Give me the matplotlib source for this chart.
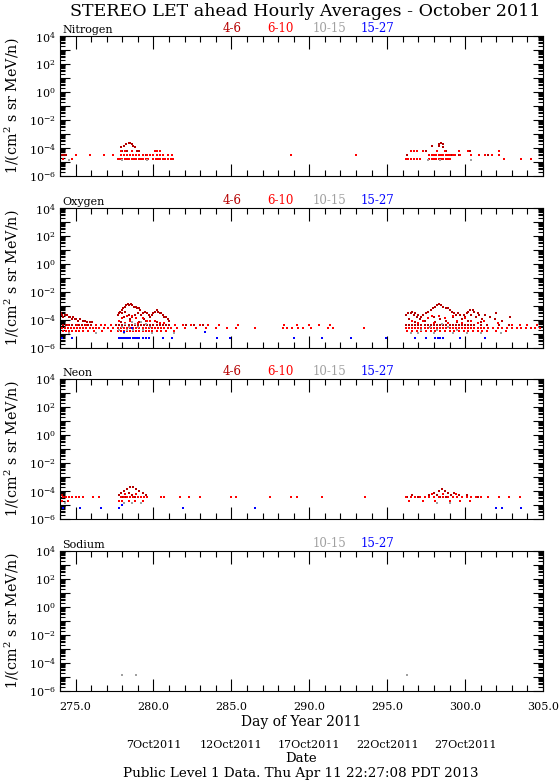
"""
STEREO LET ahead hourly averages, October 2011 -- four element panels
(N, O, Ne, Na), each with the four energy channels as coloured dots.
Output: out.png (559x780)
"""
import math
import matplotlib
matplotlib.use("Agg")
import matplotlib.pyplot as plt
import matplotlib.transforms as mtransforms
from matplotlib.ticker import LogLocator, MultipleLocator, NullFormatter, FuncFormatter

plt.rcParams["font.family"] = "DejaVu Serif"
plt.rcParams["mathtext.fontset"] = "dejavuserif"

# ---- data: each series is a list of (flux level, [days of year]) -----------
# counts are quantised, so points sit on a few discrete flux levels
N_46 = [
    (2.4e-4, [278.4, 278.5, 298.45]),
    (2.0e-4, [278.25, 278.6, 298.35, 298.55]),
    (1.5e-4, [278.1, 278.7, 297.85, 298.3]),
    (1.1e-4, [277.9, 278.8, 298.6]),
    (6.5e-5, [278.0, 278.3, 278.95, 279.1, 297.5, 298.8, 300.3]),
    (3.2e-5, [274.1, 274.25, 274.4, 279.3, 279.55, 296.3, 297.95, 299.1, 299.6, 301.5]),
]
N_610 = [
    (6.5e-5, [277.9, 278.2, 278.6, 280.1, 280.25, 280.4, 296.5, 296.7, 296.9, 297.3,
              298.2, 298.7, 299.6, 300.2, 302.2]),
    (3.2e-5, [275.0, 275.9, 276.8, 277.4, 277.9, 278.1, 278.3, 278.5, 278.7, 278.9,
              279.1, 279.3, 279.6, 279.8, 280.0, 280.2, 280.4, 280.6, 280.9, 281.2,
              288.8, 293.0, 297.7, 297.85, 298.0, 298.15, 298.3, 298.45, 298.6,
              298.75, 298.9, 299.05, 299.2, 299.35, 299.7, 300.4, 300.9, 301.3,
              301.7, 302.2]),
    (1.6e-5, [274.2, 274.8, 277.7, 277.85, 278.0, 278.15, 278.3, 278.45, 278.6,
              278.75, 278.9, 279.05, 279.2, 279.35, 279.5, 279.65, 280.0, 280.15,
              280.3, 280.45, 280.6, 280.75, 280.9, 281.1, 281.25, 296.2, 296.35,
              296.5, 296.7, 296.9, 297.1, 297.7, 297.85, 298.0, 298.15, 298.3,
              298.45, 298.6, 298.75, 298.9, 299.0, 302.5, 303.6, 304.2]),
]
N_1015 = [
    (1.3e-5, [274.6, 278.0, 279.6, 297.6, 298.4, 300.4]),
]
N_1527 = []

O_46 = [
    (1.3e-3, [278.35, 278.55, 298.3]),
    (1.1e-3, [278.25, 278.45, 278.65, 298.2, 298.45]),
    (9.0e-4, [278.15, 278.75, 278.85, 298.1, 298.6]),
    (7.0e-4, [278.05, 278.95, 279.05, 297.95, 298.75, 298.9]),
    (5.5e-4, [277.95, 279.15, 280.2, 297.8, 299.0, 300.3, 300.5]),
    (4.0e-4, [277.85, 278.2, 279.45, 280.1, 280.3, 296.6, 297.65, 299.15, 300.2, 300.6]),
    (3.0e-4, [274.05, 277.8, 278.0, 279.0, 279.3, 279.6, 280.0, 280.4, 280.5, 296.35,
              296.5, 296.8, 297.5, 299.3, 299.55, 300.1, 300.8, 302.0]),
    (2.2e-4, [274.15, 274.3, 274.45, 277.75, 278.4, 278.8, 279.2, 279.7, 279.9, 280.6,
              296.2, 296.7, 297.0, 297.3, 299.4, 299.7, 299.9, 300.4, 300.9, 301.3]),
    (1.6e-4, [274.2, 274.55, 274.65, 274.85, 278.1, 278.6, 279.8, 280.7, 280.8, 296.9,
              297.2, 298.0, 299.25, 300.0, 300.7, 301.6, 302.9]),
    (1.2e-4, [274.75, 274.95, 275.05, 275.3, 278.5, 279.4, 280.9, 296.4, 297.1, 298.4,
              299.8, 301.1, 301.9]),
    (9.0e-5, [275.15, 275.45, 275.6, 279.5, 281.0, 297.4, 298.8, 300.2, 302.4]),
    (7.0e-5, [275.75, 275.9, 276.05, 277.9, 279.1, 280.25, 296.8, 298.1, 299.5, 301.0]),
    (4.4e-5, [274.0, 274.2, 274.4, 274.6, 274.8, 275.0, 275.2, 275.4, 275.6, 275.8,
              276.0, 277.6, 277.8, 278.0, 278.2, 278.4, 278.6, 278.8, 279.0, 279.2,
              279.4, 279.6, 279.8, 280.0, 280.2, 280.4, 280.6, 280.8, 281.0, 282.1,
              282.6, 283.2, 296.2, 296.4, 296.6, 296.8, 297.0, 297.2, 297.4, 297.6,
              297.8, 298.0, 298.2, 298.4, 298.6, 298.8, 299.0, 299.2, 299.4, 299.6,
              299.8, 300.0, 300.2, 300.4, 300.6, 301.0, 301.4, 302.2, 302.8]),
]
O_610 = [
    (2.0e-4, [278.3, 278.6, 297.9, 298.3, 299.2]),
    (1.3e-4, [278.0, 278.9, 279.3, 297.6, 298.7, 300.0]),
    (8.0e-5, [277.8, 278.5, 279.6, 279.8, 280.1, 296.6, 297.3, 299.5, 300.4, 301.2]),
    (5.8e-5, [278.2, 279.0, 280.4, 280.7, 297.0, 298.0, 298.9, 299.8, 300.8, 302.1]),
    (4.4e-5, [274.5, 275.1, 275.7, 276.3, 276.6, 276.9, 277.3, 281.4, 281.9, 282.4,
              283.0, 283.5, 284.2, 285.4, 288.4, 289.2, 290.0, 290.6, 291.3, 303.0,
              303.5, 304.0, 304.6]),
    (2.5e-5, [274.0, 274.1, 274.3, 274.5, 274.7, 274.9, 275.1, 275.3, 275.5, 275.7,
              275.9, 276.1, 276.3, 276.5, 276.8, 277.1, 277.4, 277.7, 277.9, 278.1,
              278.3, 278.5, 278.7, 278.9, 279.1, 279.3, 279.5, 279.7, 279.9, 280.1,
              280.3, 280.5, 280.7, 280.9, 281.1, 281.5, 282.0, 282.7, 283.4, 284.0,
              284.7, 285.3, 286.5, 288.3, 288.6, 288.9, 289.3, 289.6, 290.1, 291.2,
              291.5, 293.5, 296.2, 296.4, 296.6, 296.8, 297.0, 297.2, 297.4, 297.6,
              297.8, 298.0, 298.2, 298.4, 298.6, 298.8, 299.0, 299.2, 299.4, 299.6,
              299.8, 300.0, 300.2, 300.4, 300.6, 300.8, 301.0, 301.2, 301.5, 301.8,
              302.1, 302.4, 302.7, 303.0, 303.3, 303.6, 303.9, 304.2, 304.5, 304.8]),
    (1.6e-5, [274.0, 274.2, 274.4, 274.6, 274.8, 275.0, 275.2, 275.5, 275.8, 276.2,
              276.7, 277.3, 277.7, 277.9, 278.1, 278.3, 278.5, 278.7, 278.9, 279.1,
              279.3, 279.5, 279.7, 279.9, 280.2, 280.5, 280.8, 281.3, 296.3, 296.6,
              296.9, 297.2, 297.5, 297.8, 298.1, 298.4, 298.7, 299.0, 299.3, 299.6,
              299.9, 300.2, 300.5, 300.8, 301.1, 301.4, 302.0, 302.6]),
]
O_1015 = [
    (7.5e-5, [278.6, 279.2]),
    (5.0e-5, [278.2, 278.8, 279.5, 298.5]),
    (3.3e-5, [278.0, 278.4, 279.0, 279.8, 297.75, 298.9]),
    (2.0e-5, [277.8, 278.3, 278.7, 279.3, 297.2, 298.2, 299.5]),
    (1.2e-5, [274.6, 276.3, 278.1, 279.9, 281.3, 296.5, 297.0, 298.0, 299.2, 300.1,
              301.0, 302.3]),
]
O_1527 = [
    (2.5e-5, [278.6]),
    (1.4e-5, [278.1, 283.3]),
    (5.5e-6, [274.1, 274.75, 277.8, 277.9, 278.0, 278.1, 278.2, 278.3, 278.4, 278.5,
              278.7, 278.8, 278.9, 279.0, 279.1, 279.3, 279.5, 279.7, 280.6, 281.2,
              284.1, 284.9, 289.0, 290.8, 292.7, 294.9, 296.8, 297.5, 298.1, 298.25,
              298.4, 298.6, 299.7, 301.3]),
]

NE_46 = [
    (1.8e-4, [278.5, 278.7]),
    (1.3e-4, [278.3, 278.9, 298.5]),
    (1.0e-4, [278.1, 279.1, 298.3, 298.7]),
    (7.0e-5, [277.9, 278.4, 279.3, 298.0, 298.9, 299.3]),
    (5.0e-5, [274.1, 277.8, 278.6, 279.5, 296.6, 297.7, 298.2, 299.1, 299.6, 300.1]),
    (4.0e-5, [274.0, 274.3, 274.6, 278.0, 278.2, 278.8, 279.0, 279.4, 296.3, 297.0,
              297.4, 298.4, 298.8, 299.8, 300.4, 300.8]),
]
NE_610 = [
    (6.0e-5, [278.2, 278.9, 297.9, 298.6, 299.4]),
    (3.5e-5, [274.0, 274.2, 274.4, 274.6, 274.8, 275.0, 275.2, 275.5, 276.1, 276.5,
              277.9, 278.1, 278.3, 278.5, 278.7, 279.0, 279.2, 279.4, 279.6, 280.5,
              280.7, 281.7, 282.3, 283.0, 285.0, 285.3, 287.5, 288.8, 289.2, 290.8,
              293.6, 296.2, 296.5, 296.8, 297.1, 297.4, 297.7, 298.0, 298.3, 298.6,
              298.9, 299.2, 299.5, 299.8, 300.1, 300.4, 300.7, 301.0, 301.5, 302.2,
              302.8, 303.5]),
    (1.8e-5, [274.1, 274.5, 277.8, 278.0, 278.4, 278.8, 279.3, 296.4, 297.3, 298.1,
              299.0, 299.7, 300.3]),
]
NE_1015 = [
    (1.3e-5, [274.3, 278.1, 278.6, 279.2, 298.2, 299.0]),
]
NE_1527 = [
    (1.0e-5, [278.0]),
    (6.0e-6, [274.2, 275.3, 276.6, 277.8, 281.9, 286.5, 302.0, 302.4, 303.6]),
]

NA_46 = []
NA_610 = []
NA_1015 = [
    (1.5e-5, [278.0, 278.9, 296.25]),
]
NA_1527 = []

CHANNELS = ["4-6", "6-10", "10-15", "15-27"]
COLORS = {"4-6": "#b40000", "6-10": "#ff0000", "10-15": "#a0a0a0", "15-27": "#0000ff"}
LABEL_X = {"4-6": 232, "6-10": 280, "10-15": 330, "15-27": 378}   # pixel centres

PANELS = [
    ("Nitrogen", [N_46, N_610, N_1015, N_1527], CHANNELS),
    ("Oxygen", [O_46, O_610, O_1015, O_1527], CHANNELS),
    ("Neon", [NE_46, NE_610, NE_1015, NE_1527], CHANNELS),
    ("Sodium", [NA_46, NA_610, NA_1015, NA_1527], ["10-15", "15-27"]),
]
PANEL_TOP = [36, 208, 379, 551]     # pixel rows of the top axis line
DATE_DAYS = [280, 285, 290, 295, 300]
DATE_LABELS = ["7Oct2011", "12Oct2011", "17Oct2011", "22Oct2011", "27Oct2011"]

W, H = 559, 780
AX_L, AX_R, AX_H = 60, 543, 140


def decade_label(v, _pos):
    e = int(round(math.log10(v)))
    return rf"$10^{{{e}}}$" if e % 2 == 0 else ""


def main():
    fig = plt.figure(figsize=(W / 100, H / 100), dpi=100)
    fig.text(305 / W, 1 - 11 / H, "STEREO LET ahead Hourly Averages - October 2011",
             ha="center", va="center", fontsize=12.6)

    axes = []
    for (name, series, shown), top in zip(PANELS, PANEL_TOP):
        ax = fig.add_axes([AX_L / W, 1 - (top + AX_H) / H, (AX_R - AX_L) / W, AX_H / H])
        for ch, ser in zip(CHANNELS, series):
            for level, days in ser:
                ax.plot(days, [level] * len(days), "s", ms=1.7, mew=0, color=COLORS[ch])
        ax.set_yscale("log")
        ax.set_ylim(1e-6, 1e4)
        ax.set_xlim(274, 305)
        ax.yaxis.set_major_locator(LogLocator(base=10, numticks=20))
        ax.yaxis.set_major_formatter(FuncFormatter(decade_label))
        ax.yaxis.set_minor_locator(LogLocator(base=10, subs=range(2, 10), numticks=20))
        ax.yaxis.set_minor_formatter(NullFormatter())
        ax.xaxis.set_major_locator(MultipleLocator(5))
        ax.xaxis.set_minor_locator(MultipleLocator(1))
        ax.tick_params(which="both", direction="in", top=True, right=True, width=0.8)
        ax.tick_params(axis="x", which="major", length=9)
        ax.tick_params(axis="x", which="minor", length=4)
        ax.tick_params(axis="y", which="major", length=7, labelsize=8, pad=3)
        ax.tick_params(axis="y", which="minor", length=3.5)
        ax.tick_params(axis="x", labelsize=8, pad=8)
        for s in ax.spines.values():
            s.set_linewidth(0.8)
        ax.xaxis.set_major_formatter(FuncFormatter(lambda v, p: f"{v:.1f}"))
        ax.tick_params(axis="x", labelbottom=False)

        ytop = 1 - (top - 1) / H
        fig.text(62 / W, ytop, name, ha="left", va="bottom", fontsize=8)
        for ch in shown:
            fig.text(LABEL_X[ch] / W, ytop, ch, ha="center", va="bottom", fontsize=8.5,
                     color=COLORS[ch])
        fig.text(12 / W, 1 - (top + AX_H / 2) / H, r"1/(cm$^2$ s sr MeV/n)",
                 rotation=90, ha="center", va="center", fontsize=10.3)
        axes.append(ax)

    bottom = axes[-1]
    bottom.tick_params(axis="x", labelbottom=True)
    fig.text(301 / W, 1 - 722 / H, "Day of Year 2011", ha="center", va="center", fontsize=10)

    trans = mtransforms.blended_transform_factory(bottom.transData, fig.transFigure)
    for d, lab in zip(DATE_DAYS, DATE_LABELS):
        fig.text(d, 1 - 745 / H, lab, transform=trans, ha="center", va="center", fontsize=8)
    fig.text(301 / W, 1 - 759 / H, "Date", ha="center", va="center", fontsize=9.5)
    fig.text(301 / W, 1 - 773 / H, "Public Level 1 Data. Thu Apr 11 22:27:08 PDT 2013",
             ha="center", va="center", fontsize=9.7)

    fig.savefig("out.png", dpi=100)
    plt.close(fig)


if __name__ == "__main__":
    main()
